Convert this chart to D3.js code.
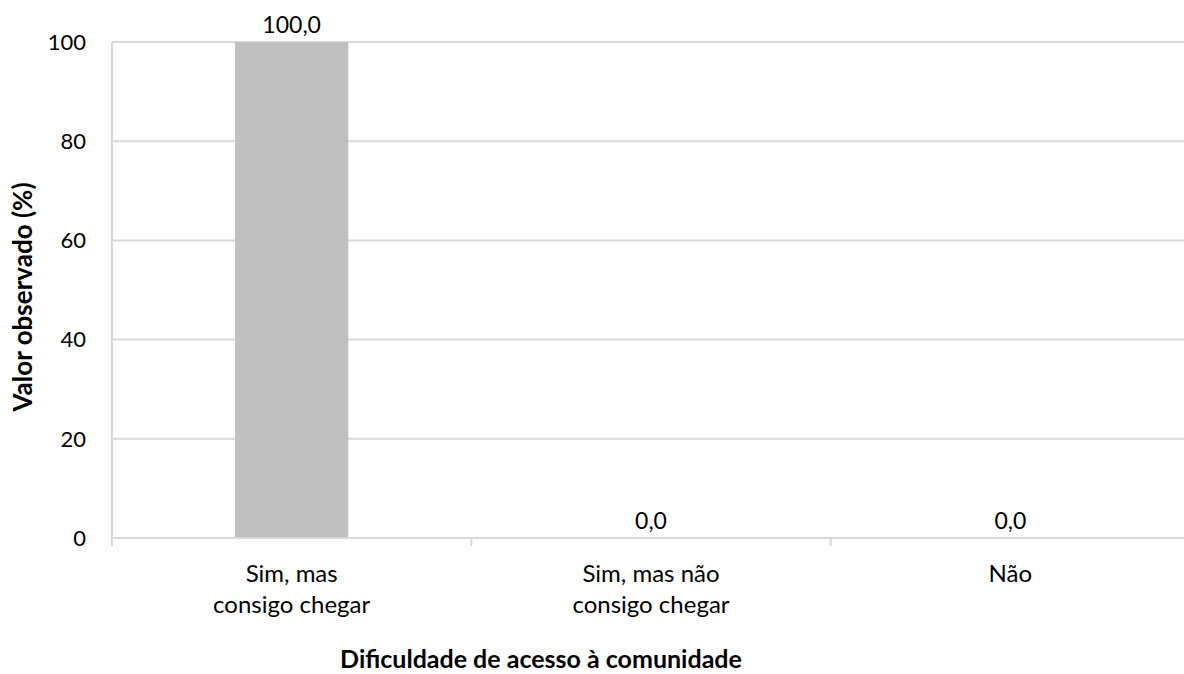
<!DOCTYPE html>
<html>
<head>
<meta charset="utf-8">
<script src="https://cdn.jsdelivr.net/npm/d3@7"></script>
<style>
body { margin: 0; background: #fff; }
text { font-family: Lato, "Open Sans", sans-serif; fill: #000; }
.grid line { stroke: #d9d9d9; stroke-width: 2px; }
.bar { fill: #bfbfbf; }
</style>
</head>
<body>
<svg id="chart" width="1184" height="674"></svg>
<script>
// data
var categories = [["Sim, mas", "consigo chegar"], ["Sim, mas não", "consigo chegar"], ["Não"]];
var values = [100.0, 0.0, 0.0];
var yTicks = [0, 20, 40, 60, 80, 100];

var svg = d3.select("#chart");

var margin = {left: 112, top: 42, right: -6, bottom: 136};
var width = 1184 - margin.left - margin.right,
    height = 674 - margin.top - margin.bottom;

var g = svg.append("g")
    .attr("transform", "translate(" + margin.left + "," + margin.top + ")");

var x = d3.scaleBand()
    .domain(d3.range(categories.length))
    .range([0, width])
    .paddingInner(0.685)
    .paddingOuter(0.3425);

var y = d3.scaleLinear()
    .domain([0, 100])
    .range([height, 0]);

// gridlines
g.append("g").attr("class", "grid")
    .selectAll("line")
    .data(yTicks.filter(function(d) { return d > 0; }))
    .enter().append("line")
    .attr("x1", 0).attr("x2", width)
    .attr("y1", function(d) { return y(d); })
    .attr("y2", function(d) { return y(d); });

// bars
g.selectAll(".bar")
    .data(values)
    .enter().append("rect")
    .attr("class", "bar")
    .attr("x", function(d, i) { return x(i); })
    .attr("width", x.bandwidth())
    .attr("y", function(d) { return y(d); })
    .attr("height", function(d) { return height - y(d); });

// value labels
g.selectAll(".val")
    .data(values)
    .enter().append("text")
    .attr("class", "val")
    .attr("x", function(d, i) { return x(i) + x.bandwidth() / 2; })
    .attr("y", function(d) { return y(d) - 9; })
    .attr("text-anchor", "middle")
    .style("font-size", "23px")
    .text(function(d) { return d.toFixed(1).replace(".", ","); });

// y axis
g.append("line")
    .attr("x1", 0).attr("x2", 0)
    .attr("y1", 0).attr("y2", height)
    .attr("stroke", "#d9d9d9").attr("stroke-width", 2);

g.selectAll(".ytick")
    .data(yTicks)
    .enter().append("text")
    .attr("class", "ytick")
    .attr("x", -26)
    .attr("y", function(d) { return y(d); })
    .attr("dy", "0.35em")
    .attr("text-anchor", "end")
    .style("font-size", "22px")
    .text(function(d) { return d; });

// x axis
g.append("line")
    .attr("x1", 0).attr("x2", width)
    .attr("y1", height).attr("y2", height)
    .attr("stroke", "#d9d9d9").attr("stroke-width", 2);

g.selectAll(".xtickmark")
    .data(d3.range(categories.length + 1))
    .enter().append("line")
    .attr("x1", function(d) { return d * width / categories.length; })
    .attr("x2", function(d) { return d * width / categories.length; })
    .attr("y1", height).attr("y2", height + 8)
    .attr("stroke", "#d9d9d9").attr("stroke-width", 2);

var lbl = g.selectAll(".xlabel")
    .data(categories)
    .enter().append("text")
    .attr("class", "xlabel")
    .attr("x", function(d, i) { return x(i) + x.bandwidth() / 2; })
    .attr("y", height + 44)
    .attr("text-anchor", "middle")
    .style("font-size", "24px");

lbl.selectAll("tspan")
    .data(function(d) { return d; })
    .enter().append("tspan")
    .attr("x", function() { return d3.select(this.parentNode).attr("x"); })
    .attr("dy", function(d, i) { return i === 0 ? 0 : 31; })
    .text(function(d) { return d; });

// axis titles
svg.append("text")
    .attr("transform", "translate(32," + 297 + ") rotate(-90)")
    .attr("text-anchor", "middle")
    .style("font-size", "26px")
    .style("font-weight", "bold")
    .text("Valor observado (%)");

svg.append("text")
    .attr("x", 541)
    .attr("y", 668)
    .attr("text-anchor", "middle")
    .style("font-size", "25px")
    .style("font-weight", "bold")
    .text("Dificuldade de acesso à comunidade");
</script>
</body>
</html>
